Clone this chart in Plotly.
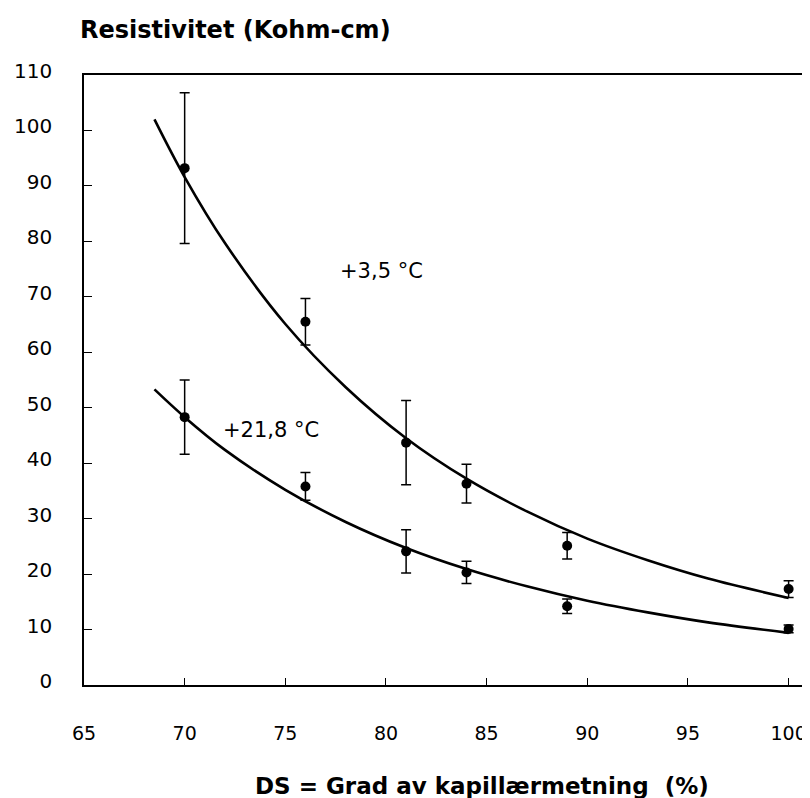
import plotly.graph_objects as go

# --- data ---
ds_values = [70, 76, 81, 84, 89, 100]

res_3_5 = [93.2, 65.5, 43.7, 36.3, 25.1, 17.3]
err_3_5 = [13.6, 4.2, 7.6, 3.5, 2.4, 1.5]

res_21_8 = [48.3, 35.8, 24.1, 20.3, 14.2, 10.1]
err_21_8 = [6.7, 2.5, 3.9, 2.0, 1.3, 0.7]

# trend curves
curve_x = [68.5, 70, 72, 75, 78, 81, 84, 87, 90, 93, 96, 100]
curve_3_5 = [102.0, 91.6, 79.7, 65.1, 53.7, 44.5, 37.2, 31.3, 26.4, 22.5, 19.2, 15.7]
curve_21_8 = [53.3, 48.3, 42.4, 35.2, 29.4, 24.7, 20.9, 17.8, 15.2, 13.1, 11.3, 9.4]

x_ticks = [65, 70, 75, 80, 85, 90, 95, 100]
y_ticks = [0, 10, 20, 30, 40, 50, 60, 70, 80, 90, 100, 110]

FONT = "DejaVu Sans"

fig = go.Figure()

for cy in (curve_3_5, curve_21_8):
    fig.add_trace(go.Scatter(
        x=curve_x, y=cy, mode="lines", line=dict(color="black", width=2.6, shape="spline"),
        showlegend=False, hoverinfo="skip"))

for ys, es in ((res_3_5, err_3_5), (res_21_8, err_21_8)):
    fig.add_trace(go.Scatter(
        x=ds_values, y=ys, mode="markers",
        marker=dict(color="black", size=10),
        error_y=dict(type="data", array=es, visible=True, color="black", thickness=1.5, width=5),
        showlegend=False))

fig.add_annotation(x=79.8, y=74.7, xref="x", yref="y", text="+3,5 °C", showarrow=False,
                   font=dict(family=FONT, size=21, color="black"))
fig.add_annotation(x=74.3, y=45.9, xref="x", yref="y", text="+21,8 °C", showarrow=False,
                   font=dict(family=FONT, size=21, color="black"))

fig.add_annotation(x=(70 - 76) / 734, y=(677 - 22) / 610, xref="paper", yref="paper",
                   xanchor="left", yanchor="middle", showarrow=False,
                   text="<b>Resistivitet (Kohm-cm)</b>",
                   font=dict(family=FONT, size=24, color="black"))
fig.add_annotation(x=(245 - 76) / 734, y=(677 - 778) / 610, xref="paper", yref="paper",
                   xanchor="left", yanchor="middle", showarrow=False,
                   text="<b>DS = Grad av kapillærmetning \u00a0(%)</b>",
                   font=dict(family=FONT, size=23, color="black"))

fig.update_layout(
    width=810, height=798,
    margin=dict(l=76, r=0, t=67, b=121),
    paper_bgcolor="white", plot_bgcolor="white",
    font=dict(family=FONT, size=20, color="black"),
)
fig.update_xaxes(
    range=[65, 101.46], tickvals=x_ticks, ticktext=[str(v) for v in x_ticks],
    showline=True, linecolor="black", linewidth=1.5, mirror=True,
    ticks="inside", ticklen=7, tickcolor="black", tickwidth=1,
    showgrid=False, zeroline=False, ticklabelstandoff=30,
    tickfont=dict(family=FONT, size=19, color="black"),
)
fig.update_yaxes(
    range=[0, 110], tickvals=y_ticks, ticktext=[str(v) for v in y_ticks],
    showline=True, linecolor="black", linewidth=1.5,
    ticks="inside", ticklen=8, tickcolor="black", tickwidth=1,
    showgrid=False, zeroline=False, ticklabelstandoff=26, ticklabelshift=-4,
)

fig.write_html("out.html")
